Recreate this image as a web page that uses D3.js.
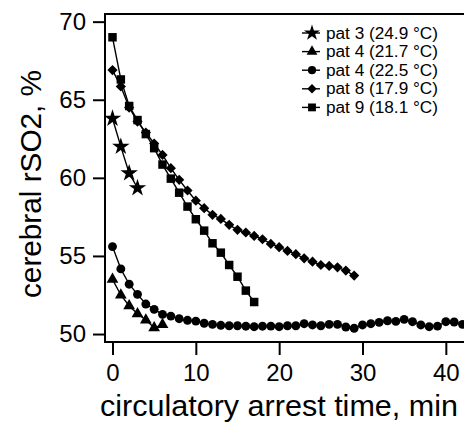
<!DOCTYPE html>
<html>
<head>
<meta charset="utf-8">
<script src="https://cdn.jsdelivr.net/npm/d3@7"></script>
<style>
  body { margin: 0; background: #fff; }
  svg { display: block; font-family: Arial, "Liberation Sans", sans-serif; }
</style>
</head>
<body>
<div id="chart"></div>
<script>
/** Series values, one sample per minute of circulatory arrest (index = minute) */
var pat3Values = [63.8, 62.0, 60.3, 59.35];
var pat4aValues = [53.5, 52.5, 51.8, 51.3, 50.9, 50.4, 50.6];
var pat4bValues = [55.6, 54.17, 53.19, 52.54, 51.92, 51.58, 51.26, 51.15, 50.98, 50.88,
                   50.83, 50.69, 50.62, 50.56, 50.53, 50.53, 50.5, 50.47, 50.5, 50.51,
                   50.47, 50.53, 50.53, 50.66, 50.58, 50.53, 50.62, 50.62, 50.45, 50.37,
                   50.58, 50.66, 50.75, 50.85, 50.81, 50.94, 50.79, 50.58, 50.47, 50.51,
                   50.79, 50.77, 50.62, 50.51];
var pat8Values = [66.9, 65.85, 64.5, 63.6, 62.9, 62.2, 61.47, 60.62, 59.87, 59.19,
                  58.54, 58.06, 57.63, 57.37, 56.99, 56.67, 56.5, 56.28, 56.07, 55.77,
                  55.56, 55.32, 55.11, 54.85, 54.63, 54.42, 54.36, 54.27, 54.06, 53.74];
var pat9Values = [69.0, 66.3, 64.6, 63.7, 62.8, 61.9, 60.85, 59.95, 59.05, 58.16,
                  57.35, 56.62, 55.81, 55.21, 54.42, 53.67, 52.78, 52.05];

/** Legend labels, in drawing order */
var seriesLabels = ["pat 3 (24.9 °C)", "pat 4 (21.7 °C)", "pat 4 (22.5 °C)", "pat 8 (17.9 °C)", "pat 9 (18.1 °C)"];

/** Tick values */
var xTicks = [0, 10, 20, 30, 40];
var yTicks = [50, 55, 60, 65, 70];

var width = 464, height = 423;
var margin = {top: 14, left: 105, bottom: 81};
var plotRight = 490;

var svg = d3.select("#chart")
  .append("svg")
  .attr("width", width)
  .attr("height", height);

var x = d3.scaleLinear().domain([-0.9, 45.3]).range([margin.left, plotRight]);
var y = d3.scaleLinear().domain([49.49, 70.49]).range([height - margin.bottom, margin.top]);

/** Symbols: diamond is a square turned 45 degrees */
var symbols = [
  {type: d3.symbolStar, size: 95, rotate: 0},
  {type: d3.symbolTriangle, size: 60, rotate: 0},
  {type: d3.symbolCircle, size: 62, rotate: 0},
  {type: d3.symbolSquare, size: 52, rotate: 45},
  {type: d3.symbolSquare, size: 72, rotate: 0}
];

var series = [pat3Values, pat4aValues, pat4bValues, pat8Values, pat9Values].map(function(values, i)
{
  return {
    label: seriesLabels[i],
    symbol: symbols[i],
    points: values.map(function(v, t) { return {t: t, v: v}; })
  };
});

svg.append("clipPath")
  .attr("id", "plotClip")
  .append("rect")
  .attr("x", margin.left)
  .attr("y", margin.top)
  .attr("width", plotRight - margin.left)
  .attr("height", height - margin.bottom - margin.top);

/** Axes */
svg.append("g")
  .attr("transform", "translate(0," + (height - margin.bottom) + ")")
  .call(d3.axisBottom(x).tickValues(xTicks).tickSize(13).tickPadding(9).tickSizeOuter(0))
  .call(function(g)
  {
    g.select(".domain").remove();
    g.selectAll("line").attr("stroke-width", 2);
    g.selectAll("text").attr("font-size", 24).attr("fill", "#000");
  });

svg.append("g")
  .attr("transform", "translate(" + margin.left + ",0)")
  .call(d3.axisLeft(y).tickValues(yTicks).tickSize(12).tickPadding(7).tickSizeOuter(0))
  .call(function(g)
  {
    g.select(".domain").remove();
    g.selectAll("line").attr("stroke-width", 2);
    g.selectAll("text").attr("font-size", 24).attr("fill", "#000");
  });

/** Frame (right side falls outside the picture) */
svg.append("rect")
  .attr("x", margin.left)
  .attr("y", margin.top)
  .attr("width", plotRight - margin.left)
  .attr("height", height - margin.bottom - margin.top)
  .attr("fill", "none")
  .attr("stroke", "#000")
  .attr("stroke-width", 2);

/** Series */
var line = d3.line()
  .x(function(d) { return x(d.t); })
  .y(function(d) { return y(d.v); });

var plot = svg.append("g").attr("clip-path", "url(#plotClip)");

series.forEach(function(s)
{
  var g = plot.append("g");
  g.append("path")
    .datum(s.points)
    .attr("d", line)
    .attr("fill", "none")
    .attr("stroke", "#000")
    .attr("stroke-width", 1.4);
  g.selectAll("path.mark")
    .data(s.points)
    .enter().append("path")
      .attr("class", "mark")
      .attr("d", d3.symbol().type(s.symbol.type).size(s.symbol.size))
      .attr("transform", function(d) { return "translate(" + x(d.t) + "," + y(d.v) + ") rotate(" + s.symbol.rotate + ")"; })
      .attr("fill", "#000");
});

/** Legend */
var legend = svg.append("g").attr("transform", "translate(302,33)");
series.forEach(function(s, i)
{
  var row = legend.append("g").attr("transform", "translate(0," + (i * 18.6) + ")");
  row.append("line")
    .attr("x1", 0).attr("x2", 18)
    .attr("stroke", "#000")
    .attr("stroke-width", 1.4);
  row.append("path")
    .attr("d", d3.symbol().type(s.symbol.type).size(s.symbol.size * 0.85))
    .attr("transform", "translate(10,0) rotate(" + s.symbol.rotate + ")")
    .attr("fill", "#000");
  row.append("text")
    .attr("x", 24)
    .attr("dy", "0.35em")
    .attr("font-size", 16)
    .attr("textLength", 112)
    .attr("lengthAdjust", "spacingAndGlyphs")
    .text(s.label);
});

/** Axis titles */
svg.append("text")
  .attr("x", 100)
  .attr("y", 415.5)
  .attr("font-size", 30)
  .attr("textLength", 358)
  .attr("lengthAdjust", "spacingAndGlyphs")
  .text("circulatory arrest time, min");

svg.append("text")
  .attr("transform", "translate(41,184) rotate(-90)")
  .attr("text-anchor", "middle")
  .attr("font-size", 30)
  .attr("textLength", 228)
  .attr("lengthAdjust", "spacingAndGlyphs")
  .text("cerebral rSO2, %");
</script>
</body>
</html>
